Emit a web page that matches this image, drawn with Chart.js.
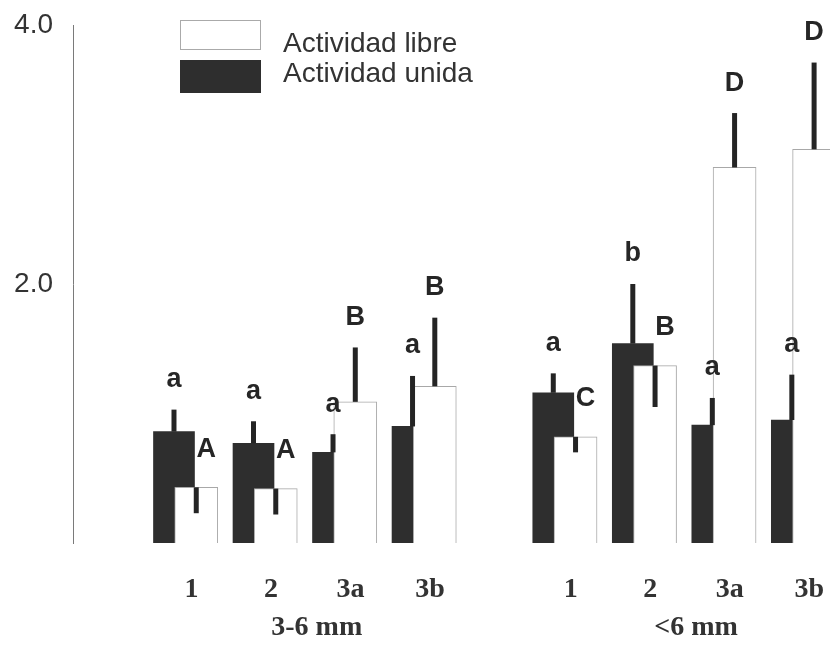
<!DOCTYPE html>
<html>
<head>
<meta charset="utf-8">
<script src="https://cdn.jsdelivr.net/npm/chart.js@4.4.0/dist/chart.umd.min.js"></script>
<style>
    body { margin: 0; background: #fff; }
    canvas { display: block; }
</style>
</head>
<body>
<canvas id="grafic-activitat" width="830" height="645"></canvas>
<script>
// Dades llegides de la figura
var categories = ['1', '2', '3a', '3b', '1', '2', '3a', '3b'];
var grups = ['3-6 mm', '<6 mm'];
var unida = [0.86, 0.77, 0.70, 0.90, 1.16, 1.54, 0.91, 0.95];
var errUnida = [0.17, 0.17, 0.14, 0.39, 0.15, 0.46, 0.21, 0.35];
var libre = [0.43, 0.42, 1.09, 1.21, 0.82, 1.37, 2.90, 3.04];
var errLibre = [-0.20, -0.20, 0.42, 0.53, -0.12, -0.32, 0.42, 0.67]; // negatiu = barra cap avall
var lletresUnida = ['a', 'a', 'a', 'a', 'a', 'b', 'a', 'a'];
var lletresLibre = ['A', 'A', 'B', 'B', 'C', 'B', 'D', 'D'];
var yTicks = [2, 4];

var desplLibre = 0.28;  // la barra blanca comença al mig de la fosca
var desplEtiqueta = 0.22;

function posicio(i) {
    return i + Math.floor(i / 4) * 0.77;
}

function punts(valors, despl) {
    var res = [];
    for (var i = 0; i < valors.length; i++) {
        res.push({ x: posicio(i) + despl, y: valors[i] });
    }
    return res;
}

var pluginErrors = {
    id: 'errorsLletres',
    afterDatasetsDraw: function(chart) {
        var ctx = chart.ctx;
        var y = chart.scales.y;
        ctx.save();
        chart.data.datasets.forEach(function(ds, d) {
            var meta = chart.getDatasetMeta(d);
            meta.data.forEach(function(bar, i) {
                var v = ds.data[i].y;
                var e = ds.errors[i];
                var yTop = y.getPixelForValue(v);
                var yErr = y.getPixelForValue(v + e);
                ctx.strokeStyle = '#242424';
                ctx.lineWidth = 5;
                ctx.beginPath();
                ctx.moveTo(bar.x, yTop);
                ctx.lineTo(bar.x, yErr);
                ctx.stroke();

                var dalt = Math.min(yTop, yErr);
                var lx = bar.x;
                var ly = dalt - 30;
                if (e < 0) {
                    lx = bar.x + 10;
                    ly = dalt - 38;
                }
                ctx.fillStyle = '#262626';
                ctx.font = 'bold 27px "Liberation Sans", Arial, sans-serif';
                ctx.textAlign = 'center';
                ctx.textBaseline = 'middle';
                ctx.fillText(ds.lletres[i], lx, ly);
            });
        });
        ctx.restore();
    }
};

var pluginLlegenda = {
    id: 'llegenda',
    afterDraw: function(chart) {
        var ctx = chart.ctx;
        var x = chart.scales.x;
        ctx.save();
        // llegenda dins de l'àrea
        var caixes = [[20, 30, 44], [60, 33, 74]];
        chart.data.datasets.forEach(function(ds, d) {
            var c = caixes[d];
            ctx.fillStyle = ds.backgroundColor;
            ctx.fillRect(180, c[0], 81, c[1]);
            ctx.strokeStyle = d === 0 ? '#aaa' : ds.backgroundColor;
            ctx.lineWidth = 1;
            ctx.strokeRect(180.5, c[0] + 0.5, 80, c[1] - 1);
            ctx.fillStyle = '#333';
            ctx.font = '28px "Liberation Sans", Arial, sans-serif';
            ctx.textAlign = 'left';
            ctx.textBaseline = 'middle';
            ctx.fillText(ds.label, 283, c[2]);
        });

        // noms dels grups sota les etiquetes
        ctx.font = 'bold 28px "Liberation Serif", "Times New Roman", serif';
        ctx.textAlign = 'center';
        ctx.textBaseline = 'middle';
        ctx.fillStyle = '#333';
        for (var g = 0; g < grups.length; g++) {
            var mig = (posicio(g * 4) + posicio(g * 4 + 3)) / 2 + desplEtiqueta;
            ctx.fillText(grups[g], x.getPixelForValue(mig) + 6, 628);
        }
        ctx.restore();
    }
};

new Chart(document.getElementById('grafic-activitat').getContext('2d'), {
    type: 'bar',
    data: {
        datasets: [{
            label: 'Actividad libre',
            data: punts(libre, desplLibre),
            errors: errLibre,
            lletres: lletresLibre,
            backgroundColor: '#ffffff',
            borderColor: '#a8a8a8',
            borderWidth: 1,
            barThickness: 43,
            grouped: false
        }, {
            label: 'Actividad unida',
            data: punts(unida, 0),
            errors: errUnida,
            lletres: lletresUnida,
            backgroundColor: '#2e2e2e',
            borderColor: '#2e2e2e',
            borderWidth: 0,
            barThickness: 41,
            grouped: false
        }]
    },
    options: {
        responsive: false,
        animation: false,
        layout: { autoPadding: false, padding: { left: 14, right: 0, top: 25, bottom: 42 } },
        plugins: {
            legend: { display: false },
            tooltip: { enabled: false }
        },
        scales: {
            x: {
                type: 'linear',
                offset: false,
                min: -1.27,
                max: 8.25,
                grid: { display: false, drawTicks: false },
                border: { display: false },
                afterBuildTicks: function(scale) {
                    scale.ticks = categories.map(function(c, i) {
                        return { value: posicio(i) + desplEtiqueta };
                    });
                },
                afterFit: function(scale) {
                    scale.height = 60;
                    scale.paddingLeft = 0;
                    scale.paddingRight = 0;
                },
                ticks: {
                    padding: 30,
                    maxRotation: 0,
                    autoSkip: false,
                    color: '#333',
                    font: { family: '"Liberation Serif", "Times New Roman", serif', size: 28, weight: 'bold' },
                    callback: function(value, index) {
                        return categories[index];
                    }
                }
            },
            y: {
                min: 0,
                max: 4,
                grid: { display: false, drawTicks: false },
                border: { display: true, color: '#7a7a7a', width: 1 },
                afterBuildTicks: function(scale) {
                    scale.ticks = yTicks.map(function(v) { return { value: v }; });
                },
                afterFit: function(scale) {
                    scale.width = 59;
                    scale.paddingTop = 0;
                    scale.paddingBottom = 0;
                },
                ticks: {
                    padding: 20,
                    color: '#333',
                    font: { family: '"Liberation Sans", Arial, sans-serif', size: 28 },
                    callback: function(value) {
                        return value.toFixed(1);
                    }
                }
            }
        }
    },
    plugins: [pluginErrors, pluginLlegenda]
});
</script>
</body>
</html>
